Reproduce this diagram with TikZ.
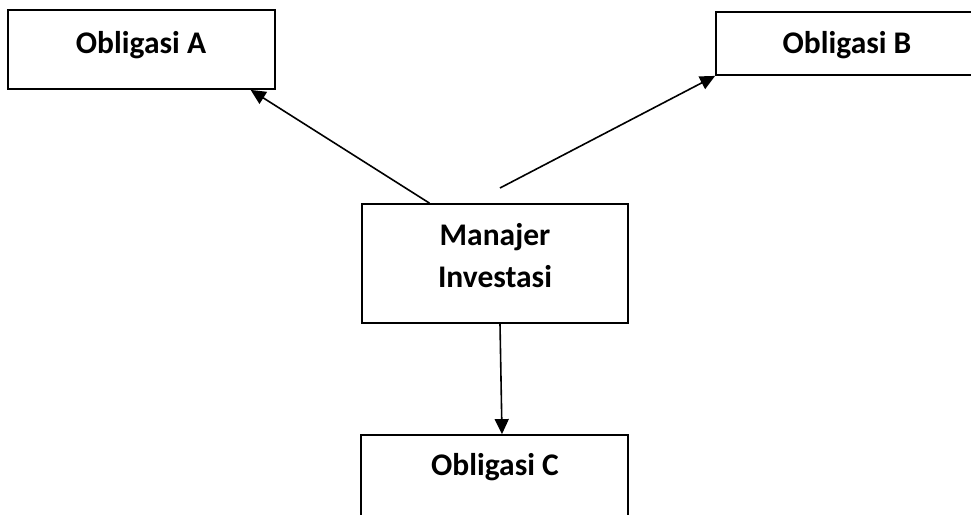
\documentclass[tikz,border=0pt]{standalone}
\usepackage{fontspec}
\setmainfont{Carlito}
\usetikzlibrary{arrows.meta,calc}
\begin{document}
\begin{tikzpicture}[x=1pt,y=-1pt,
  box/.style={draw=black,line width=1.8pt,rectangle,inner sep=0pt},
  lbl/.style={font=\fontsize{31.5}{42}\selectfont\bfseries,inner sep=0pt,anchor=base,align=center},
  link/.style={line width=1.6pt,-{Triangle[length=15pt,width=14pt]}}]
  \useasboundingbox (0,0) rectangle (971,514);
  \clip (0,0) rectangle (971,514);
  % boxes
  \node[box,minimum width=267pt,minimum height=79pt] (A) at (141.5,49.5) {};
  \node[box,minimum width=290pt,minimum height=63pt] (B) at (861,43.5) {};
  \node[box,minimum width=266pt,minimum height=119pt] (M) at (495,263.5) {};
  \node[box,minimum width=267pt,minimum height=120pt] (C) at (494.5,495) {};
  % labels
  \node[lbl] (tA) at (141,53) {Obligasi A};
  \node[lbl] (tB) at (847,53) {Obligasi B};
  \node[lbl] (tM1) at (495,245) {Manajer};
  \node[lbl] (tM2) at (495,287) {Investasi};
  \node[lbl] (tC) at (495,475) {Obligasi C};
  % connectors
  \coordinate (bstart) at (500,188);
  \draw[link] ($(M.north west)!0.255!(M.north east)$) -- ($(A.south west)!0.906!(A.south east)$);
  \draw[link] (bstart) -- (B.south west);
  \draw[link] ($(M.south)+(5,0)$) -- ($(C.north)+(7.5,0)$);
\end{tikzpicture}
\end{document}
